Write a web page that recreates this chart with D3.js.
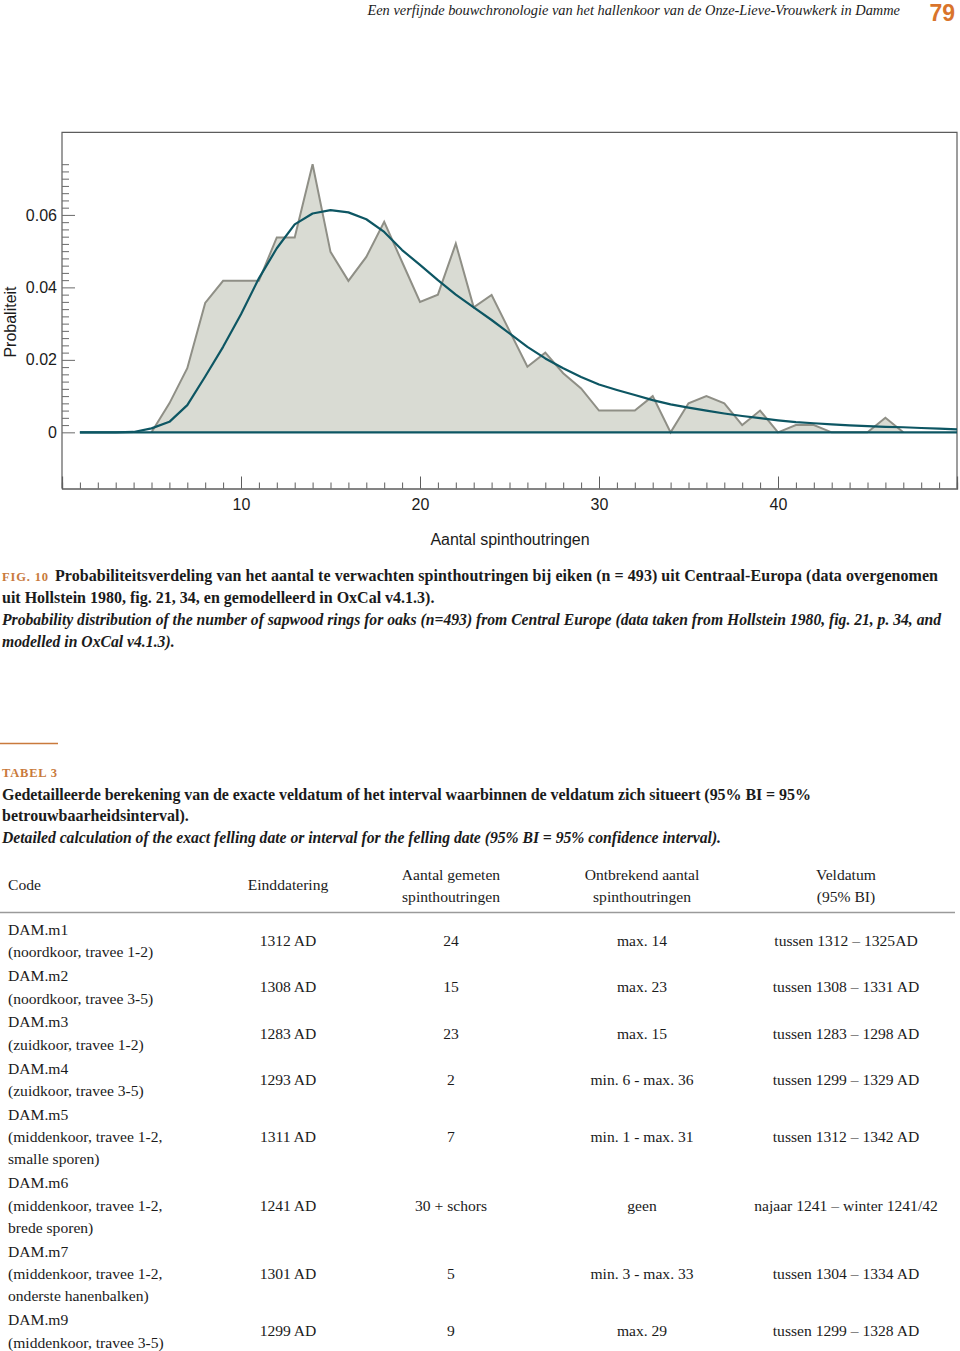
<!DOCTYPE html>
<html><head><meta charset="utf-8">
<script src="https://cdn.jsdelivr.net/npm/d3@7"></script>
<style>
html,body{margin:0;padding:0;background:#fff;}
svg{display:block;}
</style></head><body>
<svg id="page" width="960" height="1351"></svg>
<script>
// ---------- DATA ----------
const observedRings = [5,6,7,8,9,10,11,12,13,14,15,16,17,18,19,20,21,22,23,24,25,26,27,28,29,30,31,32,33,34,35,36,37,38,39,40,41,42,43,44,45,46,47];
const observedProb  = [0,0.008,0.0177,0.0357,0.0418,0.0418,0.0418,0.0538,0.0538,0.074,0.0498,0.0418,0.0484,0.0581,0.047,0.036,0.038,0.0521,0.0345,0.0379,0.028,0.0181,0.022,0.0163,0.0121,0.006,0.006,0.006,0.010,0,0.008,0.010,0.008,0.002,0.006,0,0.002,0.002,0,0,0,0.004,0];
const modelRings = [1,2,3,4,5,6,7,8,9,10,11,12,13,14,15,16,17,18,19,20,21,22,23,24,25,26,27,28,29,30,31,32,33,34,35,36,37,38,39,40,41,42,43,44,45,46,47,48,49,50];
const modelProb  = [0,0,0,0.0001,0.0011,0.0029,0.0075,0.0154,0.0236,0.0326,0.0425,0.0508,0.0574,0.0604,0.0613,0.0607,0.0588,0.0553,0.0503,0.0462,0.042,0.038,0.0345,0.031,0.0273,0.0236,0.0204,0.0177,0.0153,0.0132,0.0117,0.0103,0.0089,0.0077,0.0068,0.006,0.0052,0.0045,0.0039,0.0033,0.0028,0.0025,0.0022,0.0019,0.0017,0.0015,0.0014,0.0012,0.001,0.0008];
const xMajorTicks = [10,20,30,40];
const yMajorTicks = [0,0.02,0.04,0.06];
const yTickLabels = ["0","0.02","0.04","0.06"];

const headerTitle = "Een verfijnde bouwchronologie van het hallenkoor van de Onze-Lieve-Vrouwkerk in Damme";
const pageNumber = "79";
const figLabel = "FIG. 10";
const captionBold = ["Probabiliteitsverdeling van het aantal te verwachten spinthoutringen bij eiken (n = 493) uit Centraal-Europa (data overgenomen",
                     "uit Hollstein 1980, fig. 21, 34, en gemodelleerd in OxCal v4.1.3)."];
const captionItalic = ["Probability distribution of the number of sapwood rings for oaks (n=493) from Central Europe (data taken from Hollstein 1980, fig. 21, p. 34, and",
                       "modelled in OxCal v4.1.3)."];
const tableLabel = "TABEL 3";
const tableBold = ["Gedetailleerde berekening van de exacte veldatum of het interval waarbinnen de veldatum zich situeert (95% BI = 95%",
                   "betrouwbaarheidsinterval)."];
const tableItalic = "Detailed calculation of the exact felling date or interval for the felling date (95% BI = 95% confidence interval).";

const colHeaders = [["Code"],["Einddatering"],["Aantal gemeten","spinthoutringen"],["Ontbrekend aantal","spinthoutringen"],["Veldatum","(95% BI)"]];
const codes = ["DAM.m1","DAM.m2","DAM.m3","DAM.m4","DAM.m5","DAM.m6","DAM.m7","DAM.m9"];
const locations = [["(noordkoor, travee 1-2)"],["(noordkoor, travee 3-5)"],["(zuidkoor, travee 1-2)"],["(zuidkoor, travee 3-5)"],
                   ["(middenkoor, travee 1-2,","smalle sporen)"],["(middenkoor, travee 1-2,","brede sporen)"],
                   ["(middenkoor, travee 1-2,","onderste hanenbalken)"],["(middenkoor, travee 3-5)"]];
const endDates = ["1312 AD","1308 AD","1283 AD","1293 AD","1311 AD","1241 AD","1301 AD","1299 AD"];
const measured = ["24","15","23","2","7","30 + schors","5","9"];
const missing = ["max. 14","max. 23","max. 15","min. 6 - max. 36","min. 1 - max. 31","geen","min. 3 - max. 33","max. 29"];
const fellingDates = ["tussen 1312 – 1325AD","tussen 1308 – 1331 AD","tussen 1283 – 1298 AD","tussen 1299 – 1329 AD","tussen 1312 – 1342 AD","najaar 1241 – winter 1241/42","tussen 1304 – 1334 AD","tussen 1299 – 1328 AD"];

// ---------- STYLE ----------
const SERIF = "'Liberation Serif', 'DejaVu Serif', serif";
const SANS = "'Liberation Sans', Arial, sans-serif";
const ORANGE = "#c97a3c";
const TEXT = "#1b1b1b";
const TEAL = "#0d5663";

const svg = d3.select("#page");

// ---------- HEADER ----------
svg.append("text").attr("x", 900).attr("y", 15).attr("text-anchor","end")
  .style("font-family", SERIF).style("font-style","italic").style("font-size","14.4px").attr("fill", TEXT)
  .text(headerTitle);
svg.append("text").attr("x", 955).attr("y", 21).attr("text-anchor","end")
  .style("font-family", SANS).style("font-weight","bold").style("font-size","23px").attr("fill", "#d9742b")
  .text(pageNumber);

// ---------- CHART ----------
const L = 62, R = 957, T = 132.3, B = 488.5;
const x = d3.scaleLinear().domain([0,50]).range([L,R]);
const y = d3.scaleLinear().domain([-0.0155,0.0828]).range([B,T]);

const g = svg.append("g");
g.append("path").attr("d", `M${L},${B}V${T}H${R}V${B}`).attr("fill","none").attr("stroke","#5d5d5d").attr("stroke-width",1.2);

const obs = observedRings.map((r,i)=>({r, p: observedProb[i]}));
const mod = modelRings.map((r,i)=>({r, p: modelProb[i]}));

g.append("path").datum(obs)
  .attr("d", d3.area().x(d=>x(d.r)).y0(y(0)).y1(d=>y(d.p)))
  .attr("fill","#d9dbd3");
g.append("path").datum(obs)
  .attr("d", d3.line().x(d=>x(d.r)).y(d=>y(d.p)))
  .attr("fill","none").attr("stroke","#8f8f86").attr("stroke-width",2).attr("stroke-linejoin","miter");
g.append("path").datum([modelRings[0], modelRings[modelRings.length-1]])
  .attr("d", d=>`M${x(d[0])},${y(0)}H${x(d[1])}`)
  .attr("stroke", TEAL).attr("stroke-width",2.4).attr("fill","none");
g.append("path").datum(mod)
  .attr("d", d3.line().x(d=>x(d.r)).y(d=>y(d.p)))
  .attr("fill","none").attr("stroke",TEAL).attr("stroke-width",2.2).attr("stroke-linejoin","round");

// x axis
const minorX = x.ticks(50).filter(v=>v>0 && v<50 && !xMajorTicks.includes(v));
const xMinor = g.append("g").attr("transform",`translate(0,${B})`)
  .call(d3.axisBottom(x).tickValues(minorX).tickSize(-6).tickFormat(""));
const xMajor = g.append("g").attr("transform",`translate(0,${B})`)
  .call(d3.axisBottom(x).tickValues(xMajorTicks).tickSize(-12).tickPadding(10).tickFormat(d3.format("d")));
[xMinor,xMajor].forEach(a=>{
  a.select(".domain").attr("stroke","#5d5d5d").attr("stroke-width",1.2);
  a.selectAll(".tick line").attr("stroke","#5d5d5d").attr("stroke-width",1);
  a.selectAll("text").style("font-family",SANS).style("font-size","16px").attr("fill",TEXT);
});

// y axis
const minorY = d3.range(0, 38).map(i=>+(i*0.002).toFixed(3)).filter(v=>!yMajorTicks.includes(v));
const yMinor = g.append("g").attr("transform",`translate(${L},0)`)
  .call(d3.axisLeft(y).tickValues(minorY).tickSize(-7).tickFormat(""));
const yMajor = g.append("g").attr("transform",`translate(${L},0)`)
  .call(d3.axisLeft(y).tickValues(yMajorTicks).tickSize(-13).tickPadding(5).tickFormat((d,i)=>yTickLabels[i]));
[yMinor,yMajor].forEach(a=>{
  a.select(".domain").remove();
  a.selectAll(".tick line").attr("stroke","#6a6a6a").attr("stroke-width",1);
  a.selectAll("text").style("font-family",SANS).style("font-size","16px").attr("fill",TEXT);
});

g.append("text").attr("transform",`translate(16,${322}) rotate(-90)`).attr("text-anchor","middle")
  .style("font-family",SANS).style("font-size","16px").attr("fill",TEXT).text("Probaliteit");
g.append("text").attr("x",510).attr("y",545).attr("text-anchor","middle")
  .style("font-family",SANS).style("font-size","16px").attr("fill",TEXT).text("Aantal spinthoutringen");

// ---------- CAPTION ----------
function smallCaps(xp, yp, txt, len){
  return svg.append("text").attr("x",xp).attr("y",yp)
    .attr("textLength", len).attr("lengthAdjust","spacing")
    .style("font-family",SERIF).style("font-weight","bold")
    .style("font-size","12.5px").attr("fill",ORANGE).text(txt);
}
function line(xp, yp, txt, italic, len, size){
  const t = svg.append("text").attr("x",xp).attr("y",yp)
    .style("font-family",SERIF).style("font-weight","bold")
    .style("font-style", italic ? "italic" : "normal")
    .style("font-size",(size||16)+"px").attr("fill",TEXT).text(txt);
  if (len) t.attr("textLength",len).attr("lengthAdjust","spacing");
  return t;
}
smallCaps(2, 581, figLabel, 46);
line(55, 581, captionBold[0], false, 883);
line(2, 603, captionBold[1], false);
line(2, 625, captionItalic[0], true, 939, 15.7);
line(2, 647, captionItalic[1], true, null, 15.7);

// ---------- TABLE TITLE ----------
svg.append("line").attr("x1",0).attr("x2",58).attr("y1",743.5).attr("y2",743.5).attr("stroke",ORANGE).attr("stroke-width",1.5);
smallCaps(2, 777, tableLabel, 55);
line(2, 800, tableBold[0], false, 809);
line(2, 821, tableBold[1], false);
line(2, 843, tableItalic, true, 719, 15.7);

// ---------- TABLE ----------
const colX = [8, 288, 451, 642, 846];
const colAnchor = ["start","middle","middle","middle","middle"];
const LH = 22.3;
const TS = "15.6px";
colHeaders.forEach((lines,c)=>{
  const y0 = lines.length===1 ? 890 : 880;
  lines.forEach((t,i)=>{
    svg.append("text").attr("x",colX[c]).attr("y",y0+22*i).attr("text-anchor",colAnchor[c])
      .style("font-family",SERIF).style("font-size",TS).attr("fill",TEXT).text(t);
  });
});
svg.append("line").attr("x1",0).attr("x2",955).attr("y1",912.5).attr("y2",912.5).attr("stroke","#9a9a9a").attr("stroke-width",1.5);

let rowTop = 935;
codes.forEach((code,r)=>{
  const lines = [code].concat(locations[r]);
  lines.forEach((t,i)=>{
    svg.append("text").attr("x",colX[0]).attr("y",rowTop+LH*i)
      .style("font-family",SERIF).style("font-size",TS).attr("fill",TEXT).text(t);
  });
  const mid = rowTop + LH*(lines.length-1)/2;
  [endDates[r], measured[r], missing[r], fellingDates[r]].forEach((t,c)=>{
    svg.append("text").attr("x",colX[c+1]).attr("y",mid).attr("text-anchor","middle")
      .style("font-family",SERIF).style("font-size",TS).attr("fill",TEXT).text(t);
  });
  rowTop += LH*lines.length + 1.6;
});
</script>
</body></html>
